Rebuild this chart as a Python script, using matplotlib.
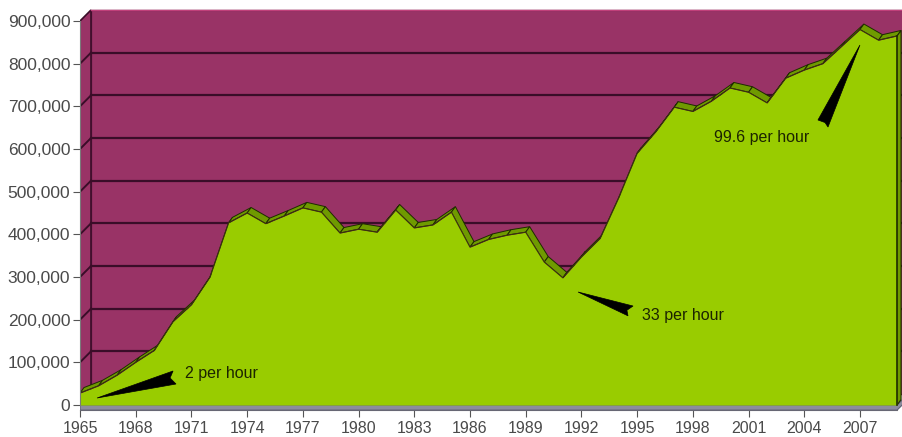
import matplotlib
matplotlib.use("Agg")
import matplotlib.pyplot as plt
from matplotlib.patches import Polygon, Rectangle
from matplotlib.ticker import FuncFormatter

plt.rcParams["font.family"] = ["Liberation Sans", "DejaVu Sans"]

years = list(range(1965, 2010))
values = [28, 45, 70, 100, 128, 195, 235, 300, 427, 450,
          425, 443, 462, 452, 403, 412, 405, 457, 415, 422,
          452, 370, 388, 398, 405, 335, 298, 347, 390, 485,
          590, 640, 698, 688, 712, 743, 733, 708, 766, 785,
          800, 840, 880, 855, 865]
values = [v * 1000 for v in values]

y_ticks = list(range(0, 900001, 100000))
x_ticks = list(range(1965, 2008, 3))

# callouts: (label, text position, wedge tip, wedge base top, notch, base bottom)
notes = [
    ("2 per hour", (1970.65, 72700), (1965.92, 16400), (1970.01, 79700), (1969.85, 63300), (1970.17, 49200)),
    ("33 per hour", (1995.26, 210900), (1991.82, 264800), (1994.78, 232000), (1994.45, 222000), (1994.51, 209000)),
    ("99.6 per hour", (1999.14, 628000), (2007.0, 843700), (2004.74, 668000), (2005.12, 662000), (2005.28, 651500)),
]

PURPLE = "#993366"
GRID = "#3a0d28"
GREEN = "#99cc00"
DARK_GREEN = "#6f9a00"

# pixel scale of the front plane
px_x = 18.57          # px per year
px_y = 0.42667 / 1000  # px per unit value
wall_dx, wall_dy = 11 / px_x, 11 / px_y
band_dx, band_dy = 4 / px_x, 5.5 / px_y

fig = plt.figure(figsize=(9.03, 4.37), dpi=100)
ax = fig.add_axes([80 / 903, 25 / 437, 823 / 903, 404 / 437])
x0, x1 = 1965, 1965 + 823 / px_x
ax.set_xlim(x0, x1)
ax.set_ylim(-7 / px_y, 397 / px_y)

top = 900000
# back wall
ax.add_patch(Rectangle((x0 + wall_dx, wall_dy), x1 - x0, top, facecolor=PURPLE,
                       edgecolor="#6b1a48", linewidth=1, zorder=1))
# side wall
ax.add_patch(Polygon([(x0, 0), (x0, top), (x0 + wall_dx, top + wall_dy), (x0 + wall_dx, wall_dy)],
                     closed=True, facecolor=PURPLE, edgecolor=GRID, linewidth=1.2, zorder=1))
for v in y_ticks[1:-1]:
    ax.plot([x0 + wall_dx, x1], [v + wall_dy, v + wall_dy], color=GRID, linewidth=1.6, zorder=2)
    ax.plot([x0, x0 + wall_dx], [v, v + wall_dy], color=GRID, linewidth=1.4, zorder=2)
ax.plot([x0 + wall_dx, x1], [top + wall_dy, top + wall_dy], color="#c0407a", linewidth=1, zorder=2)

# floor edge
last = years[-1]
ax.add_patch(Polygon([(x0, 0), (last, 0), (last + wall_dx * 0.5, wall_dy * 0.5),
                      (last + wall_dx * 0.5, wall_dy * 0.5 - 12000), (last, -12000), (x0, -12000)],
                     closed=True, facecolor="#8c8c9e", edgecolor="#5e5e70", linewidth=0.8, zorder=3))

# top band of the 3D area
for i in range(len(years) - 1):
    xa, xb = years[i], years[i + 1]
    va, vb = values[i], values[i + 1]
    ax.add_patch(Polygon([(xa, va), (xb, vb), (xb + band_dx, vb + band_dy), (xa + band_dx, va + band_dy)],
                         closed=True, facecolor=DARK_GREEN, edgecolor="#1e2a00", linewidth=0.7, zorder=4))
# right side face
ax.add_patch(Polygon([(last, 0), (last + band_dx, band_dy), (last + band_dx, values[-1] + band_dy),
                      (last, values[-1])], closed=True, facecolor=DARK_GREEN,
                     edgecolor="#1e2a00", linewidth=0.8, zorder=4))

# front face
ax.fill_between(years, 0, values, color=GREEN, linewidth=0, zorder=5)
ax.plot(years, values, color="#3d3010", linewidth=0.8, zorder=6)
ax.plot([last, last], [0, values[-1]], color="#1e2a00", linewidth=1.2, zorder=6)

# callouts
for label, txt, tip, b1, notch, b2 in notes:
    ax.add_patch(Polygon([tip, b1, notch, b2], closed=True, facecolor="black",
                         edgecolor="black", linewidth=0.5, zorder=7))
    ax.text(txt[0], txt[1], label, fontsize=11.5, color="#1c2400", ha="left", va="center", zorder=8)

# axes
for s in ["top", "right"]:
    ax.spines[s].set_visible(False)
ax.spines["left"].set_bounds(0, top)
ax.spines["left"].set_color("#7a7a7a")
ax.spines["left"].set_zorder(8)
ax.spines["bottom"].set_position(("data", -12000))
ax.spines["bottom"].set_bounds(x0, last)
ax.spines["bottom"].set_color("#7a7a7a")
ax.set_yticks(y_ticks)
ax.yaxis.set_major_formatter(FuncFormatter(lambda v, p: f"{int(v):,}"))
ax.set_xticks(x_ticks)
ax.tick_params(axis="y", length=5, color="#555555", labelcolor="#4a4a4a", labelsize=12.5, pad=2)
ax.tick_params(axis="x", length=5, color="#555555", labelcolor="#4a4a4a", labelsize=11.5, pad=3)

fig.savefig("out.png", dpi=100)
